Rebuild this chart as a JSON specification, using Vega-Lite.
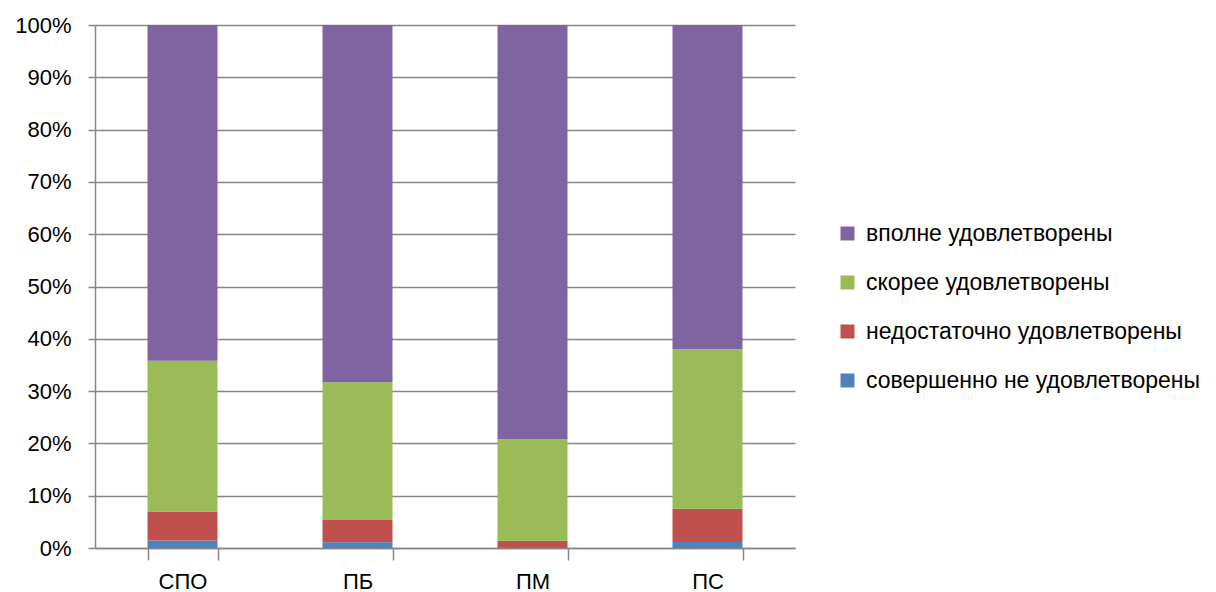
{
  "$schema": "https://vega.github.io/schema/vega-lite/v6.json",
  "width": 700,
  "height": 523,
  "autosize": {"type": "none"},
  "padding": {"left": 95, "top": 25, "right": 421, "bottom": 44},
  "background": "white",
  "config": {
    "font": "Liberation Sans",
    "view": {"stroke": null}
  },
  "data": {
    "values": [
      {"group": "СПО", "cat": "совершенно не удовлетворены", "rank": 1, "value": 1.45},
      {"group": "СПО", "cat": "недостаточно удовлетворены", "rank": 2, "value": 5.55},
      {"group": "СПО", "cat": "скорее удовлетворены", "rank": 3, "value": 28.8},
      {"group": "СПО", "cat": "вполне удовлетворены", "rank": 4, "value": 64.2},
      {"group": "ПБ", "cat": "совершенно не удовлетворены", "rank": 1, "value": 1.1},
      {"group": "ПБ", "cat": "недостаточно удовлетворены", "rank": 2, "value": 4.25},
      {"group": "ПБ", "cat": "скорее удовлетворены", "rank": 3, "value": 26.35},
      {"group": "ПБ", "cat": "вполне удовлетворены", "rank": 4, "value": 68.3},
      {"group": "ПМ", "cat": "совершенно не удовлетворены", "rank": 1, "value": 0.2},
      {"group": "ПМ", "cat": "недостаточно удовлетворены", "rank": 2, "value": 1.2},
      {"group": "ПМ", "cat": "скорее удовлетворены", "rank": 3, "value": 19.4},
      {"group": "ПМ", "cat": "вполне удовлетворены", "rank": 4, "value": 79.2},
      {"group": "ПС", "cat": "совершенно не удовлетворены", "rank": 1, "value": 1.15},
      {"group": "ПС", "cat": "недостаточно удовлетворены", "rank": 2, "value": 6.35},
      {"group": "ПС", "cat": "скорее удовлетворены", "rank": 3, "value": 30.5},
      {"group": "ПС", "cat": "вполне удовлетворены", "rank": 4, "value": 62.0}
    ]
  },
  "mark": {"type": "bar"},
  "encoding": {
    "x": {
      "field": "group",
      "type": "nominal",
      "sort": ["СПО", "ПБ", "ПМ", "ПС"],
      "scale": {"paddingInner": 0.6, "paddingOuter": 0.3},
      "axis": {
        "title": null,
        "labelAngle": 0,
        "labelFontSize": 22,
        "labelColor": "#000000",
        "labelPadding": 11,
        "tickBand": "extent",
        "tickSize": 12,
        "tickColor": "#868686",
        "domainColor": "#868686",
        "domainWidth": 1.5,
        "tickWidth": 1.5,
        "grid": false
      }
    },
    "y": {
      "field": "value",
      "type": "quantitative",
      "stack": "normalize",
      "scale": {"domain": [0, 1]},
      "axis": {
        "title": null,
        "format": "%",
        "values": [0, 0.1, 0.2, 0.3, 0.4, 0.5, 0.6, 0.7, 0.8, 0.9, 1],
        "labelFontSize": 22,
        "labelColor": "#000000",
        "labelPadding": 17,
        "tickSize": 7,
        "tickColor": "#868686",
        "domainColor": "#868686",
        "gridColor": "#868686",
        "domainWidth": 1.5,
        "tickWidth": 1.5,
        "gridWidth": 1.5
      }
    },
    "color": {
      "field": "cat",
      "type": "nominal",
      "scale": {
        "domain": ["вполне удовлетворены", "скорее удовлетворены", "недостаточно удовлетворены", "совершенно не удовлетворены"],
        "range": ["#8064A2", "#9BBB59", "#C0504D", "#4F81BD"]
      },
      "legend": {
        "title": null,
        "orient": "none",
        "legendX": 741,
        "legendY": 197,
        "symbolType": "square",
        "symbolSize": 196,
        "symbolStrokeWidth": 0,
        "labelFontSize": 23,
        "labelColor": "#000000",
        "labelOffset": 7,
        "rowPadding": 25,
        "labelLimit": 500
      }
    },
    "order": {"field": "rank", "type": "quantitative", "sort": "ascending"}
  }
}
